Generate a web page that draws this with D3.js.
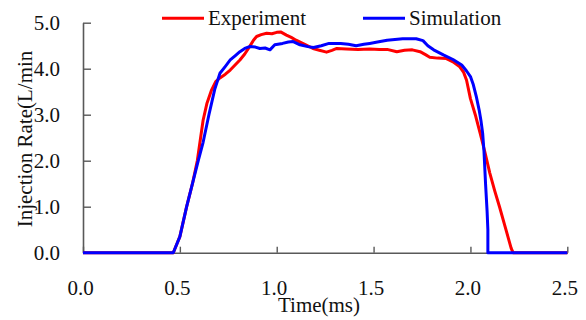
<!DOCTYPE html>
<html>
<head>
<meta charset="utf-8">
<script src="https://cdn.jsdelivr.net/npm/d3@7"></script>
<style>
  body { margin: 0; background: #fff; }
  svg { display: block; }
</style>
</head>
<body>
<svg id="chart"></svg>
<script>
// datos
var expTime = [0, 0.466, 0.50, 0.535, 0.565, 0.59, 0.62, 0.64, 0.664, 0.685, 0.707, 0.735, 0.76, 0.785,
  0.81, 0.835, 0.86, 0.88, 0.896, 0.92, 0.948, 0.975, 1.0, 1.02, 1.05, 1.075, 1.10, 1.15, 1.187,
  1.22, 1.257, 1.285, 1.31, 1.36, 1.42, 1.48, 1.53, 1.57, 1.62, 1.66, 1.70, 1.74, 1.77, 1.79,
  1.83, 1.876, 1.91, 1.945, 1.965, 1.98, 2.0, 2.025, 2.05, 2.074, 2.10, 2.125, 2.15, 2.18, 2.21,
  2.22, 2.5];
var expRate = [0, 0, 0.35, 1.0, 1.5, 2.0, 2.88, 3.25, 3.54, 3.72, 3.8, 3.88, 3.97, 4.08,
  4.19, 4.32, 4.48, 4.62, 4.70, 4.74, 4.77, 4.76, 4.79, 4.8, 4.73, 4.68, 4.62, 4.52, 4.44,
  4.40, 4.36, 4.40, 4.44, 4.43, 4.42, 4.43, 4.42, 4.42, 4.37, 4.40, 4.41, 4.37, 4.30, 4.25,
  4.23, 4.22, 4.15, 4.04, 3.92, 3.75, 3.35, 3.0, 2.6, 2.2, 1.73, 1.35, 1.0, 0.55, 0.1,
  0, 0];

var simTime = [0, 0.466, 0.50, 0.535, 0.565, 0.595, 0.62, 0.65, 0.68, 0.707, 0.735, 0.76, 0.785,
  0.81, 0.835, 0.86, 0.89, 0.913, 0.94, 0.965, 0.99, 1.03, 1.06, 1.085, 1.12, 1.16, 1.19,
  1.23, 1.27, 1.33, 1.37, 1.41, 1.45, 1.48, 1.52, 1.57, 1.65, 1.72, 1.755, 1.78, 1.81, 1.86,
  1.91, 1.955, 1.98, 2.0, 2.015, 2.03, 2.045, 2.055, 2.063, 2.07, 2.078, 2.086, 2.09, 2.09, 2.5];
var simRate = [0, 0, 0.35, 1.0, 1.5, 2.0, 2.4, 3.0, 3.55, 3.9, 4.05, 4.19, 4.28,
  4.37, 4.44, 4.48, 4.47, 4.44, 4.45, 4.41, 4.52, 4.55, 4.58, 4.59, 4.52, 4.48, 4.46,
  4.50, 4.55, 4.55, 4.53, 4.50, 4.53, 4.55, 4.58, 4.62, 4.65, 4.65, 4.61, 4.50, 4.41, 4.30,
  4.20, 4.08, 3.95, 3.83, 3.65, 3.4, 3.1, 2.85, 2.6, 2.2, 1.5, 0.9, 0.5, 0, 0];

var xTicks = [0, 0.5, 1.0, 1.5, 2.0, 2.5];
var yTicks = [0, 1.0, 2.0, 3.0, 4.0, 5.0];
var seriesNames = ["Experiment", "Simulation"];
var seriesColors = ["#ff0000", "#0000ff"];

var width = 586, height = 320;
var margin = { top: 22.7, right: 18.7, bottom: 67.3, left: 83 };
var axisColor = "#595959";
var fontFam = "Liberation Serif";

var svg = d3.select("#chart")
  .attr("width", width)
  .attr("height", height);

var xScale = d3.scaleLinear()
  .domain([0, 2.5])
  .range([margin.left, width - margin.right]);

var yScale = d3.scaleLinear()
  .domain([0, 5])
  .range([height - margin.bottom, margin.top]);

// ejes con ticks hacia adentro
var xAxis = d3.axisBottom(xScale)
  .tickValues(xTicks)
  .tickSizeInner(-6)
  .tickSizeOuter(0)
  .tickPadding(27)
  .tickFormat(d3.format(".1f"));

var yAxis = d3.axisLeft(yScale)
  .tickValues(yTicks)
  .tickSizeInner(-8)
  .tickSizeOuter(0)
  .tickPadding(23)
  .tickFormat(d3.format(".1f"));

var gx = svg.append("g")
  .attr("transform", "translate(0," + yScale(0) + ")")
  .call(xAxis);
var gy = svg.append("g")
  .attr("transform", "translate(" + xScale(0) + ",0)")
  .call(yAxis);

[gx, gy].forEach(function (g) {
  g.attr("font-family", null).attr("font-size", null);
  g.select(".domain").attr("stroke", axisColor).attr("stroke-width", 1.6);
  g.selectAll(".tick line").attr("stroke", axisColor).attr("stroke-width", 1.4);
  g.selectAll(".tick text")
    .attr("fill", "#111")
    .style("font-family", fontFam)
    .style("font-size", "21px");
});
gx.selectAll(".tick text").attr("dx", -3);

// curvas
var line = d3.line()
  .x(function (d) { return xScale(d[0]); })
  .y(function (d) { return yScale(d[1]); });

var series = [
  d3.zip(expTime, expRate),
  d3.zip(simTime, simRate)
];

series.forEach(function (pts, i) {
  svg.append("path")
    .datum(pts)
    .attr("fill", "none")
    .attr("stroke", seriesColors[i])
    .attr("stroke-width", 3)
    .attr("stroke-linejoin", "round")
    .attr("d", line);
});

// titulos de ejes
svg.append("text")
  .attr("x", 319)
  .attr("y", 312)
  .attr("text-anchor", "middle")
  .attr("fill", "#111")
  .style("font-family", fontFam)
  .style("font-size", "21px")
  .text("Time(ms)");

svg.append("text")
  .attr("transform", "translate(32,139) rotate(-90)")
  .attr("text-anchor", "middle")
  .attr("fill", "#111")
  .style("font-family", fontFam)
  .style("font-size", "21px")
  .text("Injection Rate(L/min");

// leyenda
var legendX = [162, 363];
seriesNames.forEach(function (name, i) {
  svg.append("line")
    .attr("x1", legendX[i])
    .attr("x2", legendX[i] + 42)
    .attr("y1", 18.3)
    .attr("y2", 18.3)
    .attr("stroke", seriesColors[i])
    .attr("stroke-width", 3);
  svg.append("text")
    .attr("x", legendX[i] + 46)
    .attr("y", 25)
    .attr("fill", "#111")
    .style("font-family", fontFam)
    .style("font-size", "21px")
    .text(name);
});
</script>
</body>
</html>
